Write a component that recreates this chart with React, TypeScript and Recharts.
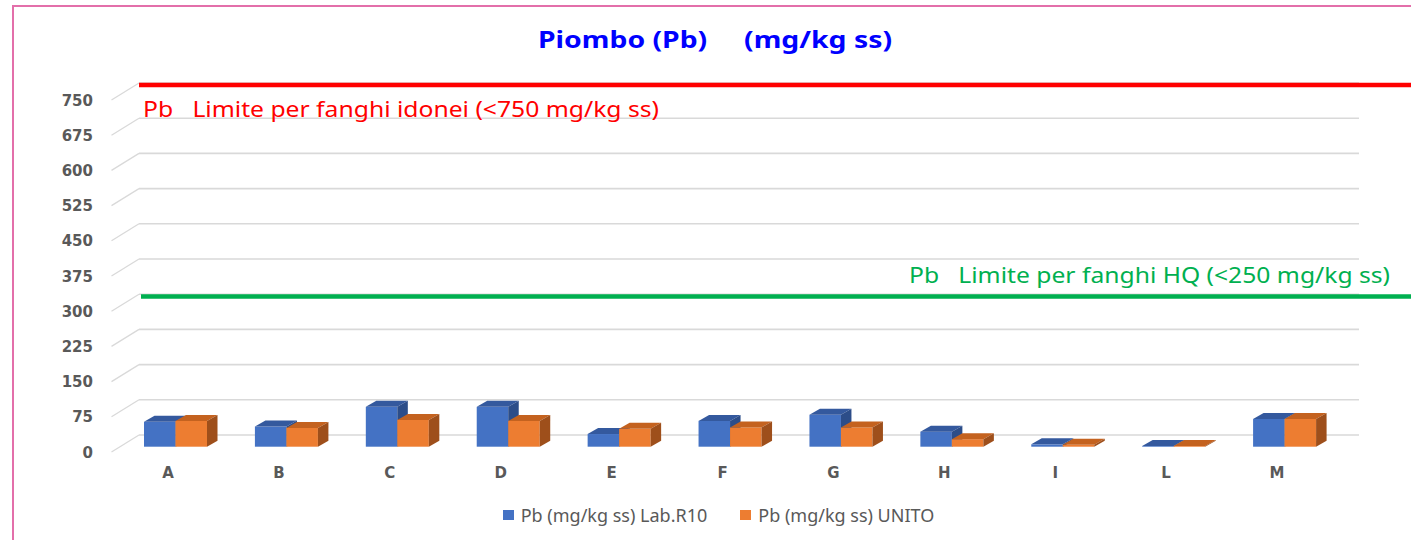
import React from 'react';
import { BarChart, Bar, XAxis, YAxis, CartesianGrid, ReferenceLine, Legend } from 'recharts';

const categories = ['A', 'B', 'C', 'D', 'E', 'F', 'G', 'H', 'I', 'L', 'M'];
const labR10 = [53, 43, 85, 85, 27, 55, 68, 32, 5, 1.5, 59];
const unito = [55, 40, 57, 55, 38, 41, 41, 16, 4, 1.5, 59];
const seriesNames = ['Pb (mg/kg ss) Lab.R10', 'Pb (mg/kg ss) UNITO'];
const yTicks = [0, 75, 150, 225, 300, 375, 450, 525, 600, 675, 750];
const limitIdonei = 746;
const limitHQ = 295;
const limitIdoneiLabel = 'Pb   Limite per fanghi idonei (<750 mg/kg ss)';
const limitHQLabel = 'Pb   Limite per fanghi HQ (<250 mg/kg ss)';
const title = 'Piombo (Pb)     (mg/kg ss)';

const data = categories.map((c, i) => ({ name: c, lab: labR10[i], unito: unito[i] }));

const W = 1411;
const H = 540;
const PLOT_LEFT = 120;
const YAXIS_W = 60;
const BACK_DX = 19;
const BACK_DY = 11.7;
const FRONT_DX = -8.5;
const FRONT_DY = 5.3;
const BAR_DX = 10.5;
const BAR_DY = 6;

const BLUE = { front: '#4472C4', top: '#34599E', side: '#2C4D89' };
const ORANGE = { front: '#ED7D31', top: '#C4621F', side: '#9E4F1B' };

const makeBar = (c: { front: string; top: string; side: string }) => (p: any) => {
  const { x, y, width, height } = p;
  if (x == null || y == null) return <g />;
  const w = width;
  const h = Math.max(height, 0);
  return (
    <g>
      <rect x={x} y={y} width={w} height={h} fill={c.front} />
      <polygon
        points={`${x},${y} ${x + BAR_DX},${y - BAR_DY} ${x + w + BAR_DX},${y - BAR_DY} ${x + w},${y}`}
        fill={c.top}
      />
      <polygon
        points={`${x + w},${y} ${x + w + BAR_DX},${y - BAR_DY} ${x + w + BAR_DX},${y + h - BAR_DY} ${x + w},${y + h}`}
        fill={c.side}
      />
    </g>
  );
};

const gridLine = (p: any) => {
  const { x1, y1, x2, index } = p;
  return (
    <g key={`g-${index}-${y1}`}>
      <line x1={x1 + FRONT_DX} y1={y1 + FRONT_DY} x2={x1 + BACK_DX} y2={y1 - BACK_DY} stroke="#D9D9D9" strokeWidth={1.3} />
      <line x1={x1 + BACK_DX} y1={y1 - BACK_DY} x2={x2 + BACK_DX} y2={y1 - BACK_DY} stroke="#D9D9D9" strokeWidth={1.6} />
    </g>
  );
};

const YTick = (p: any) => {
  const { y, payload } = p;
  return (
    <text
      x={PLOT_LEFT - 27}
      y={y + FRONT_DY + 5.5}
      textAnchor="end"
      fill="#595959"
      fontFamily="DejaVu Sans"
      fontWeight="bold"
      fontSize={15}
    >
      {payload.value}
    </text>
  );
};

const XTick = (p: any) => {
  const { x, payload } = p;
  return (
    <text
      x={x + FRONT_DX + 1}
      y={478}
      textAnchor="middle"
      fill="#595959"
      fontFamily="DejaVu Sans"
      fontWeight="bold"
      fontSize={15}
    >
      {payload.value}
    </text>
  );
};

const redLine = (p: any) => (
  <g>
    <line x1={p.x1 + BACK_DX} y1={p.y1 - BACK_DY} x2={W} y2={p.y2 - BACK_DY} stroke="#FF0000" strokeWidth={4.5} />
    <text
      x={p.x1 + BACK_DX + 4}
      y={p.y1 - BACK_DY + 32}
      fill="#FF0000"
      fontFamily="Noto Sans"
      fontSize={21}
      textLength={516}
      lengthAdjust="spacingAndGlyphs"
      style={{ whiteSpace: 'pre' }}
    >
      {limitIdoneiLabel}
    </text>
  </g>
);

const greenLine = (p: any) => (
  <g>
    <line x1={p.x1 + BACK_DX + 2} y1={p.y1 - BACK_DY} x2={W} y2={p.y2 - BACK_DY} stroke="#00B050" strokeWidth={4.5} />
    <text
      x={1390 - 481}
      y={p.y1 - BACK_DY - 14}
      fill="#00B050"
      fontFamily="Noto Sans"
      fontSize={21}
      textLength={481}
      lengthAdjust="spacingAndGlyphs"
      style={{ whiteSpace: 'pre' }}
    >
      {limitHQLabel}
    </text>
  </g>
);

const colors = [BLUE.front, ORANGE.front];

const LegendContent = () => (
  <div
    style={{
      display: 'flex',
      justifyContent: 'center',
      alignItems: 'center',
      fontFamily: 'Noto Sans',
      fontSize: 18,
      color: '#595959',
      paddingLeft: 26,
      height: 24,
    }}
  >
    {seriesNames.map((n, i) => (
      <div key={n} style={{ display: 'flex', alignItems: 'center', marginRight: i === 0 ? 33 : 0 }}>
        <span style={{ display: 'inline-block', width: 11, height: 10, background: colors[i], marginRight: 7 }} />
        <span style={{ whiteSpace: 'pre' }}>{n}</span>
      </div>
    ))}
  </div>
);

export default function App() {
  return (
    <div style={{ position: 'absolute', left: 0, top: 0, width: W, height: H, background: '#fff', overflow: 'hidden' }}>
      <div
        style={{
          position: 'absolute',
          left: 12,
          top: 5,
          width: W,
          height: H,
          borderLeft: '2px solid #E36FAA',
          borderTop: '2px solid #E36FAA',
          boxSizing: 'border-box',
        }}
      />
      <svg style={{ position: 'absolute', left: 0, top: 0 }} width={W} height={60}>
        <text
          x={538}
          y={48}
          fill="#0000FF"
          fontFamily="Noto Sans"
          fontWeight="bold"
          fontSize={23}
          textLength={354}
          lengthAdjust="spacingAndGlyphs"
          style={{ whiteSpace: 'pre' }}
        >
          {title}
        </text>
      </svg>
      <div style={{ position: 'absolute', left: 0, top: 0 }}>
        <BarChart
          width={W}
          height={H}
          data={data}
          margin={{ top: 94.7, right: 71, left: PLOT_LEFT - YAXIS_W, bottom: 63.3 }}
          barGap={0}
          barSize={31.5}
        >
          <CartesianGrid vertical={false} horizontal={gridLine} />
          <XAxis dataKey="name" height={30} axisLine={false} tickLine={false} tick={XTick} interval={0} />
          <YAxis
            width={YAXIS_W}
            domain={[0, 750]}
            ticks={yTicks}
            interval={0}
            axisLine={false}
            tickLine={false}
            tick={YTick}
          />
          <Bar dataKey="lab" name={seriesNames[0]} fill={BLUE.front} shape={makeBar(BLUE)} isAnimationActive={false} />
          <Bar dataKey="unito" name={seriesNames[1]} fill={ORANGE.front} shape={makeBar(ORANGE)} isAnimationActive={false} />
          <ReferenceLine y={limitIdonei} stroke="#FF0000" shape={redLine} />
          <ReferenceLine y={limitHQ} stroke="#00B050" shape={greenLine} />
          <Legend
            layout="horizontal"
            verticalAlign="middle"
            align="center"
            wrapperStyle={{ top: 503, left: 0, width: W, height: 24 }}
            content={LegendContent}
          />
        </BarChart>
      </div>
    </div>
  );
}
